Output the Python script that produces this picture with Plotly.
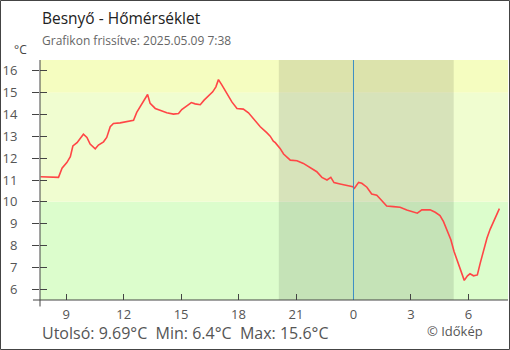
import plotly.graph_objects as go

# Measured air temperature, Besnyő, 2025-05-08 07:40 .. 2025-05-09 07:37
times = [
    "2025-05-08 07:40", "2025-05-08 08:36", "2025-05-08 08:47", "2025-05-08 09:02",
    "2025-05-08 09:13", "2025-05-08 09:21", "2025-05-08 09:34", "2025-05-08 09:44",
    "2025-05-08 09:54", "2025-05-08 10:05", "2025-05-08 10:15", "2025-05-08 10:31",
    "2025-05-08 10:41", "2025-05-08 10:57", "2025-05-08 11:07", "2025-05-08 11:18",
    "2025-05-08 11:28", "2025-05-08 11:49", "2025-05-08 12:20", "2025-05-08 12:31",
    "2025-05-08 12:41", "2025-05-08 12:57", "2025-05-08 13:07", "2025-05-08 13:15",
    "2025-05-08 13:23", "2025-05-08 13:39", "2025-05-08 13:54", "2025-05-08 14:15",
    "2025-05-08 14:36", "2025-05-08 14:52", "2025-05-08 15:02", "2025-05-08 15:18",
    "2025-05-08 15:32", "2025-05-08 15:44", "2025-05-08 16:00", "2025-05-08 16:12",
    "2025-05-08 16:26", "2025-05-08 16:39", "2025-05-08 16:49", "2025-05-08 16:57",
    "2025-05-08 17:08", "2025-05-08 17:23", "2025-05-08 17:39", "2025-05-08 17:55",
    "2025-05-08 18:15", "2025-05-08 18:31", "2025-05-08 18:47", "2025-05-08 19:08",
    "2025-05-08 19:29", "2025-05-08 19:39", "2025-05-08 19:49", "2025-05-08 19:55",
    "2025-05-08 20:10", "2025-05-08 20:21", "2025-05-08 20:42", "2025-05-08 21:03",
    "2025-05-08 21:23", "2025-05-08 21:44", "2025-05-08 22:05", "2025-05-08 22:21",
    "2025-05-08 22:37", "2025-05-08 22:49", "2025-05-08 22:59", "2025-05-08 23:18",
    "2025-05-08 23:39", "2025-05-08 23:58", "2025-05-09 00:03", "2025-05-09 00:16",
    "2025-05-09 00:26", "2025-05-09 00:42", "2025-05-09 00:57", "2025-05-09 01:13",
    "2025-05-09 01:29", "2025-05-09 01:44", "2025-05-09 02:05", "2025-05-09 02:26",
    "2025-05-09 02:47", "2025-05-09 03:08", "2025-05-09 03:20", "2025-05-09 03:34",
    "2025-05-09 04:00", "2025-05-09 04:16", "2025-05-09 04:31", "2025-05-09 04:42",
    "2025-05-09 04:52", "2025-05-09 05:05", "2025-05-09 05:15", "2025-05-09 05:26",
    "2025-05-09 05:36", "2025-05-09 05:47", "2025-05-09 05:57", "2025-05-09 06:05",
    "2025-05-09 06:16", "2025-05-09 06:28", "2025-05-09 06:37", "2025-05-09 06:47",
    "2025-05-09 06:58", "2025-05-09 07:08", "2025-05-09 07:18", "2025-05-09 07:29",
    "2025-05-09 07:37",
]
temps = [
    11.15, 11.12, 11.54, 11.80, 12.07, 12.56, 12.71, 12.91,
    13.10, 12.95, 12.65, 12.43, 12.60, 12.75, 12.95, 13.44,
    13.59, 13.62, 13.69, 13.74, 14.10, 14.51, 14.74, 14.92,
    14.51, 14.28, 14.20, 14.08, 14.02, 14.05, 14.23, 14.40,
    14.55, 14.49, 14.45, 14.66, 14.84, 15.04, 15.27, 15.60,
    15.35, 14.97, 14.58, 14.28, 14.25, 14.08, 13.78, 13.44,
    13.16, 13.01, 12.78, 12.71, 12.45, 12.19, 11.91, 11.88,
    11.76, 11.55, 11.38, 11.12, 11.00, 11.12, 10.88, 10.82,
    10.74, 10.69, 10.62, 10.89, 10.85, 10.67, 10.36, 10.30,
    10.05, 9.81, 9.78, 9.75, 9.63, 9.54, 9.48, 9.63,
    9.63, 9.52, 9.37, 9.09, 8.74, 8.26, 7.72, 7.26,
    6.81, 6.40, 6.61, 6.70, 6.61, 6.65, 7.19, 7.77,
    8.33, 8.74, 9.09, 9.48, 9.69,
]

x_range = ["2025-05-08 07:38", "2025-05-09 08:04"]
y_range = [5.5, 16.5]
x_tickvals = ["2025-05-08 09:00", "2025-05-08 12:00", "2025-05-08 15:00",
              "2025-05-08 18:00", "2025-05-08 21:00", "2025-05-09 00:00",
              "2025-05-09 03:00", "2025-05-09 06:00"]
x_ticktext = ["9", "12", "15", "18", "21", "0", "3", "6"]
y_tickvals = [6, 7, 8, 9, 10, 11, 12, 13, 14, 15, 16]

sunset = "2025-05-08 20:06"
sunrise = "2025-05-09 05:14"
midnight = "2025-05-09 00:00"

# temperature bands: (low, high, colour)
bands = [(y_range[0], 10, "#dcfdcc"), (10, 15, "#f0fdd0"), (15, y_range[1], "#f5fdc0")]

FONT = "Open Sans"
AXIS = "#444444"

fig = go.Figure()
fig.add_trace(go.Scatter(x=times, y=temps, mode="lines",
                         line=dict(color="#ff4646", width=1.6),
                         hoverinfo="skip", showlegend=False))
# helper trace so the inner tick stubs of the second y axis are drawn
fig.add_trace(go.Scatter(x=times, y=temps, mode="lines", yaxis="y2",
                         line=dict(width=0), opacity=0,
                         hoverinfo="skip", showlegend=False))

shapes = []
for lo, hi, col in bands:
    shapes.append(dict(type="rect", xref="paper", yref="y", x0=0, x1=1, y0=lo, y1=hi,
                       fillcolor=col, line=dict(width=0), layer="below"))
shapes.append(dict(type="rect", xref="x", yref="paper", x0=sunset, x1=sunrise, y0=0, y1=1,
                   fillcolor="rgba(0,0,0,0.1)", line=dict(width=0), layer="below"))
shapes.append(dict(type="line", xref="x", yref="paper", x0=midnight, x1=midnight, y0=0, y1=1,
                   line=dict(color="#3d8fc6", width=1), layer="above"))
# axis lines running a little past the corner
shapes.append(dict(type="line", xref="paper", yref="paper", x0=-0.015, x1=1, y0=0, y1=0,
                   line=dict(color=AXIS, width=1)))
shapes.append(dict(type="line", xref="paper", yref="paper", x0=0, x1=0, y0=-0.027, y1=1,
                   line=dict(color=AXIS, width=1)))
# outer frame
shapes.append(dict(type="rect", xref="paper", yref="paper",
                   x0=-39.5 / 468, x1=469.5 / 468, y0=-49.5 / 240, y1=299.5 / 240,
                   line=dict(color="#444444", width=1), fillcolor="rgba(0,0,0,0)"))

annotations = [
    dict(text="Besnyő - Hőmérséklet", x=0, y=1.175, xanchor="left", yanchor="middle",
         font=dict(family=FONT, size=15.5, color="#222222")),
    dict(text="Grafikon frissítve: 2025.05.09 7:38", x=0, y=1.083, xanchor="left",
         yanchor="middle", font=dict(family=FONT, size=12, color="#666666")),
    dict(text="°C", x=-28 / 468, y=1.042, xanchor="left", yanchor="middle",
         font=dict(family=FONT, size=12, color="#444444")),
    dict(text="Utolsó: 9.69°C  Min: 6.4°C  Max: 15.6°C", x=0, y=-0.1375,
         xanchor="left", yanchor="middle",
         font=dict(family=FONT, size=16, color="#555555")),
    dict(text="© Időkép", x=385 / 468, y=-0.129, xanchor="left", yanchor="middle",
         font=dict(family=FONT, size=13, color="#555555")),
]
for a in annotations:
    a.update(xref="paper", yref="paper", showarrow=False)

fig.update_layout(
    width=510, height=350,
    margin=dict(l=40, r=2, t=60, b=50),
    paper_bgcolor="white", plot_bgcolor="white",
    font=dict(family=FONT, color="#555555"),
    shapes=shapes, annotations=annotations,
    xaxis=dict(type="date", range=x_range, tickvals=x_tickvals, ticktext=x_ticktext,
               ticks="inside", ticklen=6, tickcolor=AXIS, showgrid=False, zeroline=False,
               showline=False, tickfont=dict(size=13, color="#555555"),
               ticklabelstandoff=5, fixedrange=True),
    yaxis=dict(range=y_range, tickvals=y_tickvals, ticks="outside", ticklen=7,
               tickcolor=AXIS, showgrid=False, zeroline=False, showline=False,
               tickfont=dict(size=13, color="#555555"), ticklabelstandoff=12,
               fixedrange=True),
    yaxis2=dict(range=y_range, tickvals=y_tickvals, ticks="inside", ticklen=7,
                tickcolor=AXIS, overlaying="y", side="left", showgrid=False,
                zeroline=False, showline=False, showticklabels=False, fixedrange=True),
)

fig.write_html("out.html")
